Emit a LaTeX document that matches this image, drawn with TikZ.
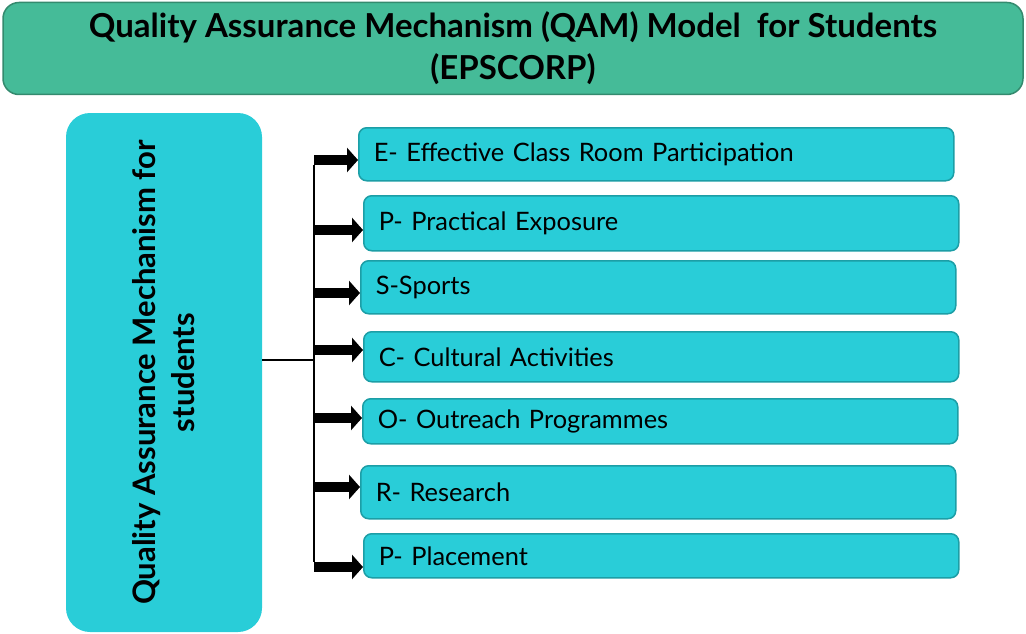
\documentclass[tikz,border=0pt]{standalone}
\usepackage{fontspec}
\setmainfont{Lato}
\usetikzlibrary{arrows.meta}
\definecolor{xanhla}{RGB}{69,187,152}
\definecolor{vienla}{RGB}{52,138,110}
\definecolor{xanhngoc}{RGB}{41,205,216}
\definecolor{vienngoc}{RGB}{28,158,166}
\begin{document}
\begin{tikzpicture}[x=1pt,y=-1pt,line join=round,
	tieude/.style={draw=vienla,fill=xanhla,line width=1.5pt,rounded corners=16pt,
		minimum width=1020pt,minimum height=92pt,align=center,
		font=\fontsize{33}{42}\selectfont\bfseries},
	goc/.style={fill=xanhngoc,rounded corners=24pt,align=center,
		font=\fontsize{31}{39}\selectfont\bfseries},
	muc/.style={draw=vienngoc,fill=xanhngoc,line width=1.5pt,rounded corners=8pt,
		anchor=north west,inner xsep=15pt,text width=565pt,align=left,
		font=\fontsize{25.4}{30}\selectfont},
	mui/.style={line width=10pt,-{Triangle[length=11pt,width=24pt]}}]
	\def\w{594}%chieu rong cac hop ben phai
	\def\x{314}%truc doc
	\useasboundingbox (0,0) rectangle (1026,634);
	%========tieu de
	\node[tieude] (T) at (513,48.5)
	{Quality Assurance Mechanism (QAM) Model \ for Students\\(EPSCORP)};
	%========hop ben trai
	\node[goc,rotate=90,minimum width=519pt,minimum height=196pt] (Q) at (164,372.5)
	{Quality Assurance Mechanism for\\students};
	%========7 hop ben phai
	\node[muc,minimum height=53pt] (e1) at (358,127) {E- Effective Class Room Participation};
	\node[muc,minimum height=55pt] (e2) at (363,195) {P- Practical Exposure};
	\node[muc,minimum height=53pt] (e3) at (360,260) {S-Sports};
	\node[muc,minimum height=50pt] (e4) at (363,331) {C- Cultural Activities};
	\node[muc,minimum height=45pt] (e5) at (362,398) {O- Outreach Programmes};
	\node[muc,minimum height=53pt] (e6) at (360,465) {R- Research};
	\node[muc,minimum height=44pt] (e7) at (363,533) {P- Placement};
	\path
	(\x,160) coordinate (t1)
	(\x,230) coordinate (t2)
	(\x,293) coordinate (t3)
	(\x,350) coordinate (t4)
	(\x,418) coordinate (t5)
	(\x,487) coordinate (t6)
	(\x,567) coordinate (t7)
	(\x,360) coordinate (g)
	;
	\draw[line width=2.5pt] ([yshift=-5pt]t1)--([yshift=5pt]t7);
	\draw[line width=1.5pt] (Q.south |- g)--(g);
	\foreach \i in {1,...,7}
	\draw[mui] (t\i)--(t\i -| e\i.west);
\end{tikzpicture}
\end{document}
